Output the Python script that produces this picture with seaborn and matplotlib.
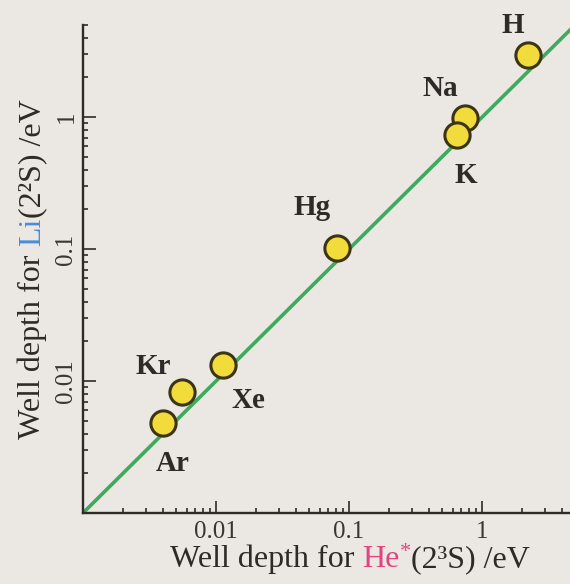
import numpy as np
import pandas as pd
import matplotlib.pyplot as plt
import seaborn as sns
from matplotlib.transforms import IdentityTransform
from matplotlib.ticker import FixedLocator, FixedFormatter, LogLocator, NullFormatter

# well depths (eV)
elements = ['H', 'Na', 'K', 'Hg', 'Kr', 'Xe', 'Ar']
he_depth = [2.22, 0.745, 0.65, 0.081, 0.00555, 0.0113, 0.0040]
li_depth = [2.96, 0.98, 0.73, 0.102, 0.00825, 0.0132, 0.0048]
label_offsets = [(-15, 30), (-25, 30), (9, -40), (-25, 41), (-29, 26), (25, -35), (10, -40)]

tick_values = [0.01, 0.1, 1]
tick_labels = ['0.01', '0.1', '1']
axis_limits = [0.001, 5]

df = pd.DataFrame({'element': elements, 'he': he_depth, 'li': li_depth})

bg = '#ebe8e4'
ink = '#2e2a27'

sns.set_style('ticks')
plt.rcParams['font.family'] = ['Liberation Serif', 'DejaVu Serif']

fig = plt.figure(figsize=(5.7, 5.84), dpi=100, facecolor=bg)
ax = fig.add_axes([83 / 570, 1 - 513 / 584, 492 / 570, 488 / 584])
ax.set_facecolor(bg)
ax.set_xscale('log')
ax.set_yscale('log')
ax.set_xlim(axis_limits)
ax.set_ylim(axis_limits)

# y = x reference line
ax.axline((axis_limits[0], axis_limits[0]), (1, 1), color='#3daa5c', lw=2.6, zorder=2)

sns.scatterplot(data=df, x='he', y='li', ax=ax, s=330, color='#f2dc3c',
                edgecolor='#3b3515', linewidth=2.2, zorder=3, legend=False)

for name, xv, yv, off in zip(elements, he_depth, li_depth, label_offsets):
    ax.annotate(name, (xv, yv), xytext=off, textcoords='offset pixels',
                ha='center', va='center', fontsize=21, fontweight='bold', color=ink)

for axis in (ax.xaxis, ax.yaxis):
    axis.set_major_locator(FixedLocator(tick_values))
    axis.set_major_formatter(FixedFormatter(tick_labels))
    axis.set_minor_locator(LogLocator(base=10, subs=np.arange(2, 10), numticks=100))
    axis.set_minor_formatter(NullFormatter())

ax.tick_params(which='both', direction='in', color=ink, width=1.2, labelcolor='#3a3633',
               labelsize=18)
ax.tick_params(which='major', length=9)
ax.tick_params(which='minor', length=3.8)
ax.tick_params(axis='x', pad=6)
ax.tick_params(axis='y', pad=4)
plt.setp(ax.get_yticklabels(), rotation=90, va='center')

sns.despine(ax=ax)
for side in ('left', 'bottom'):
    ax.spines[side].set_color(ink)
    ax.spines[side].set_linewidth(1.7)
ax.set_xlabel('')
ax.set_ylabel('')


def color_label(pieces, cx, cy, vertical=False, size=23):
    # lay coloured pieces of one label side by side, centred on (cx, cy) in pixels
    renderer = fig.canvas.get_renderer()
    texts = []
    for s, c, sz in pieces:
        t = fig.text(0, 0, s, color=c, fontsize=size * sz, transform=IdentityTransform(),
                     ha='left', va='baseline')
        texts.append(t)
    widths = [t.get_window_extent(renderer).width for t in texts]
    pos = -sum(widths) / 2
    for t, w, (s, c, sz) in zip(texts, widths, pieces):
        lift = 0 if sz == 1 else size * 0.45
        if vertical:
            t.set_position((cx - lift, cy + pos))
            t.set_rotation(90)
            t.set_rotation_mode('anchor')
        else:
            t.set_position((cx + pos, cy + lift))
        pos += w


color_label([('Well depth for ', ink, 1), ('He', '#e0457f', 1), ('*', '#e0457f', 0.7),
             ('(2³S) /eV', ink, 1)], 350, 584 - 567)
color_label([('Well depth for ', ink, 1), ('Li', '#4a8cd6', 1), ('(2²S) /eV', ink, 1)],
            40, 584 - 269, vertical=True)

fig.savefig('out.png', dpi=100, facecolor=bg)
